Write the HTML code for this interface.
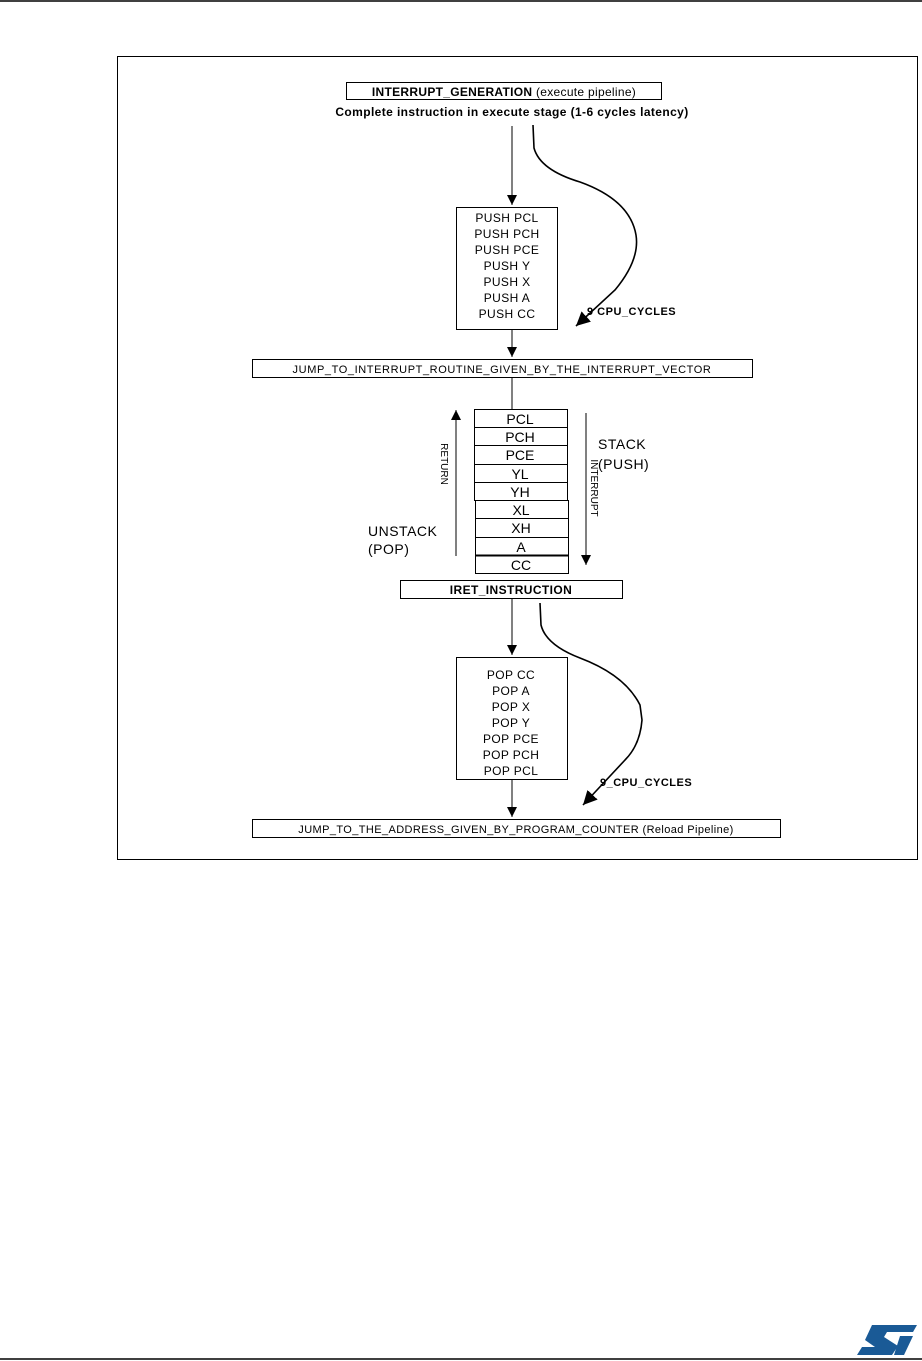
<!DOCTYPE html>
<html><head><meta charset="utf-8"><style>
html,body{margin:0;padding:0;background:#fff;}
svg{display:block;}
text{font-family:"Liberation Sans",Arial,sans-serif;fill:#000;}
.b{font-weight:bold;}
</style></head><body>
<svg width="922" height="1361" viewBox="0 0 922 1361" xmlns="http://www.w3.org/2000/svg">
<defs>
<marker id="ah" viewBox="0 0 10 10" refX="10" refY="5" markerWidth="10" markerHeight="10" markerUnits="userSpaceOnUse" orient="auto"><path d="M0,0 L10,5 L0,10 z" fill="#000"/></marker>
<marker id="ah2" viewBox="0 0 10 10" refX="10" refY="5" markerWidth="14" markerHeight="14" markerUnits="userSpaceOnUse" orient="auto"><path d="M0,0 L10,5 L0,10 z" fill="#000"/></marker>
</defs>
<line x1="0" y1="1" x2="922" y2="1" stroke="#000" stroke-width="1.5"/>
<line x1="0" y1="1359" x2="922" y2="1359" stroke="#000" stroke-width="1.5"/>
<rect x="117.5" y="56.5" width="800" height="803" fill="none" stroke="#000" stroke-width="1"/>

<rect x="346.5" y="82.5" width="315" height="17" fill="none" stroke="#000"/>
<text x="504" y="96" font-size="12" text-anchor="middle" letter-spacing="0.3"><tspan class="b">INTERRUPT_GENERATION</tspan> (execute pipeline)</text>
<text x="512" y="116" font-size="12" class="b" text-anchor="middle" letter-spacing="0.4">Complete instruction in execute stage (1-6 cycles latency)</text>

<line x1="512" y1="126" x2="512" y2="205" stroke="#000" marker-end="url(#ah)"/>
<path d="M533,125 L534,148 Q540,170 580,182 Q630,200 636,235 Q640,260 615,290 L576,326" fill="none" stroke="#000" stroke-width="1.6" marker-end="url(#ah2)"/>
<text x="587" y="315" font-size="11" class="b" letter-spacing="0.5">9 CPU_CYCLES</text>

<rect x="456.5" y="207.5" width="101" height="122" fill="none" stroke="#000"/>
<g font-size="12" text-anchor="middle" letter-spacing="0.4">
<text x="507" y="222">PUSH PCL</text><text x="507" y="238">PUSH PCH</text><text x="507" y="254">PUSH PCE</text>
<text x="507" y="270">PUSH Y</text><text x="507" y="286">PUSH X</text><text x="507" y="302">PUSH A</text><text x="507" y="318">PUSH CC</text>
</g>
<line x1="512" y1="330" x2="512" y2="357" stroke="#000" marker-end="url(#ah)"/>
<rect x="252.5" y="359.5" width="500" height="18" fill="none" stroke="#000"/>
<text x="502" y="373" font-size="11" text-anchor="middle" letter-spacing="0.6">JUMP_TO_INTERRUPT_ROUTINE_GIVEN_BY_THE_INTERRUPT_VECTOR</text>
<line x1="512" y1="378" x2="512" y2="409" stroke="#000"/>

<g stroke="#000" fill="none">
<rect x="474.5" y="409.5" width="93" height="91"/>
<line x1="474" y1="427.5" x2="567" y2="427.5"/><line x1="474" y1="445.5" x2="567" y2="445.5"/>
<line x1="474" y1="464.5" x2="567" y2="464.5"/><line x1="474" y1="482.5" x2="567" y2="482.5"/>
<rect x="475.5" y="500.5" width="93" height="73"/>
<line x1="475" y1="518.5" x2="568" y2="518.5"/><line x1="475" y1="537.5" x2="568" y2="537.5"/>
<line x1="475" y1="555.5" x2="568" y2="555.5" stroke-width="2"/>
</g>
<g font-size="14" text-anchor="middle">
<text x="520" y="424">PCL</text><text x="520" y="442">PCH</text><text x="520" y="460">PCE</text>
<text x="520" y="479">YL</text><text x="520" y="497">YH</text><text x="521" y="515">XL</text>
<text x="521" y="533">XH</text><text x="521" y="552">A</text><text x="521" y="570">CC</text>
</g>
<line x1="456" y1="556" x2="456" y2="410" stroke="#000" marker-end="url(#ah)"/>
<line x1="586" y1="413" x2="586" y2="565" stroke="#000" marker-end="url(#ah)"/>
<text x="0" y="0" font-size="10" transform="translate(441,464) rotate(90)" text-anchor="middle">RETURN</text>
<text x="0" y="0" font-size="10" transform="translate(591,488) rotate(90)" text-anchor="middle">INTERRUPT</text>
<text x="368" y="536" font-size="14" letter-spacing="0.5">UNSTACK</text><text x="368" y="554" font-size="14" letter-spacing="0.5">(POP)</text>
<text x="598" y="449" font-size="14" letter-spacing="0.5">STACK</text><text x="598" y="469" font-size="14" letter-spacing="0.5">(PUSH)</text>

<rect x="400.5" y="580.5" width="222" height="18" fill="none" stroke="#000"/>
<text x="511" y="594" font-size="12" class="b" text-anchor="middle" letter-spacing="0.4">IRET_INSTRUCTION</text>

<line x1="512" y1="599" x2="512" y2="655" stroke="#000" marker-end="url(#ah)"/>
<path d="M540,603 L541,625 Q546,645 580,658 Q625,675 640,705 L642,720 Q640,745 625,760 L583,805" fill="none" stroke="#000" stroke-width="1.6" marker-end="url(#ah2)"/>
<text x="600" y="786" font-size="11" class="b" letter-spacing="0.5">9_CPU_CYCLES</text>

<rect x="456.5" y="657.5" width="111" height="122" fill="none" stroke="#000"/>
<g font-size="12" text-anchor="middle" letter-spacing="0.4">
<text x="511" y="679">POP CC</text><text x="511" y="695">POP A</text><text x="511" y="711">POP X</text>
<text x="511" y="727">POP Y</text><text x="511" y="743">POP PCE</text><text x="511" y="759">POP PCH</text><text x="511" y="775">POP PCL</text>
</g>
<line x1="512" y1="780" x2="512" y2="817" stroke="#000" marker-end="url(#ah)"/>
<rect x="252.5" y="819.5" width="528" height="18" fill="none" stroke="#000"/>
<text x="516" y="833" font-size="11" text-anchor="middle" letter-spacing="0.4">JUMP_TO_THE_ADDRESS_GIVEN_BY_PROGRAM_COUNTER (Reload Pipeline)</text>

<g fill="#1a5a96">
<path d="M872,1325 L917,1325 L913,1332 L887,1332 L884,1337 L898,1346 L892,1355 L857,1355 L862,1347 L875,1347 L865,1340 z"/>
<path d="M900,1336 L913,1336 L904,1355 L894,1355 z"/>
</g>
</svg>
</body></html>
